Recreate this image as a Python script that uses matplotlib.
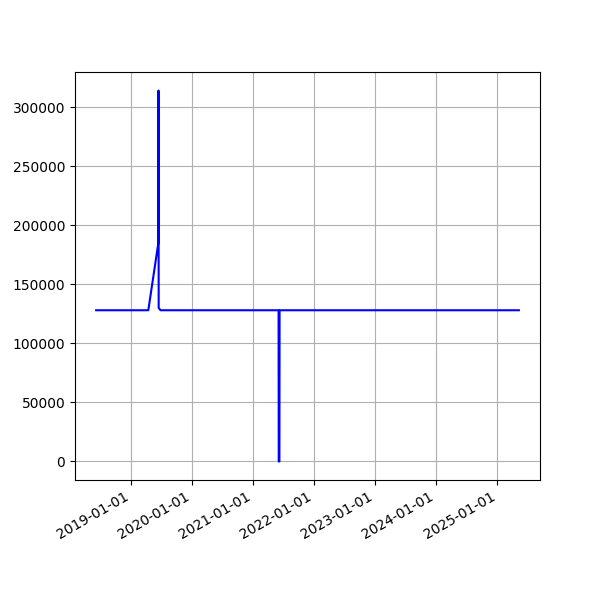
import numpy as np
import pandas as pd
import matplotlib
matplotlib.use("Agg")
import matplotlib.pyplot as plt
import matplotlib.dates as mdates

dates = pd.to_datetime([
    "2018-06-08", "2019-04-16", "2019-06-15", "2019-06-16", "2019-06-17",
    "2019-06-28", "2021-06-03", "2021-06-04", "2021-06-08", "2021-06-09",
    "2025-05-10",
])
values = [128000, 128000, 185000, 314000, 130000,
          128000, 128000, 0, 0, 128000,
          128000]

fig, ax = plt.subplots(figsize=(6, 6), dpi=100)
ax.plot(dates, values, color="b")
ax.grid(True)
ax.xaxis.set_major_locator(mdates.YearLocator())
ax.xaxis.set_major_formatter(mdates.DateFormatter("%Y-%m-%d"))
fig.autofmt_xdate()
fig.savefig("out.png")
